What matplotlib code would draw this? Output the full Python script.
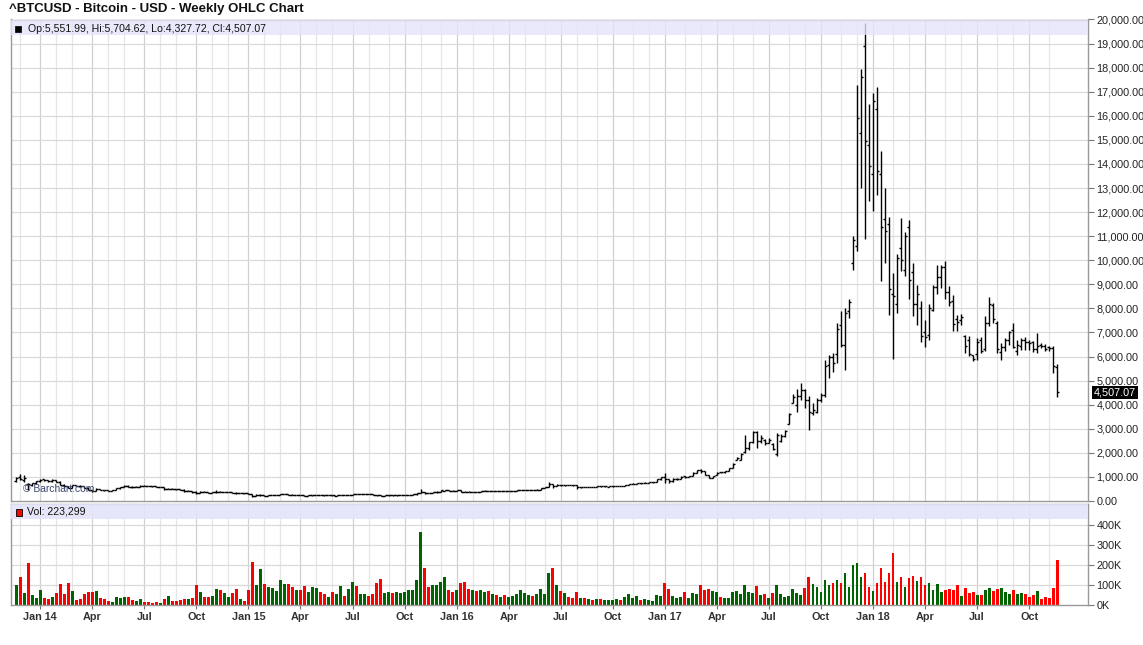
import numpy as np
import pandas as pd
import matplotlib
matplotlib.use("Agg")
import matplotlib.pyplot as plt
import matplotlib.transforms as mtrans
from matplotlib.patches import Rectangle

plt.rcParams['font.family'] = ['Liberation Sans', 'DejaVu Sans']

# weekly bars, week starts on Monday
first_week = "2013-11-25"

opens = [
    810, 1000, 860, 720, 660, 730, 820, 900, 860, 820,
    880, 800, 680, 620, 560, 660, 630, 610, 560, 450,
    420, 500, 450, 440, 430, 445, 520, 580, 640, 600,
    580, 600, 640, 620, 615, 605, 590, 590, 500, 510,
    490, 480, 470, 400, 410, 360, 340, 390, 380, 340,
    360, 390, 370, 370, 380, 350, 320, 330, 315, 275,
    210, 230, 260, 225, 235, 245, 255, 275, 290, 265,
    250, 260, 240, 225, 235, 232, 240, 235, 232, 238,
    225, 232, 245, 242, 258, 290, 275, 285, 292, 278,
    262, 232, 228, 230, 238, 232, 236, 234, 240, 252,
    270, 325, 385, 330, 322, 360, 390, 430, 455, 430,
    428, 452, 385, 385, 370, 380, 372, 410, 425, 412,
    416, 410, 416, 412, 418, 426, 450, 446, 450, 456,
    444, 470, 530, 590, 690, 640, 670, 645, 665, 655,
    645, 570, 590, 575, 580, 572, 610, 603, 600, 606,
    610, 620, 615, 650, 695, 705, 745, 735, 765, 770,
    785, 920, 1000, 900, 820, 900, 920, 1020, 1000, 1040,
    1180, 1270, 1230, 1070, 965, 1090, 1200, 1190, 1240, 1360,
    1700, 1720, 2040, 2200, 2450, 2850, 2500, 2550, 2400, 2380,
    1950, 2500, 2700, 3200, 4080, 4000, 4350, 4600, 4200, 3650,
    3700, 4200, 4400, 5650, 6000, 6100, 7300, 6500, 7900, 9900,
    10600, 15300, 18900, 14800, 13600, 16300, 13600, 11700, 11500, 8600,
    8200, 10500, 9600, 11400, 9500, 8200, 8000, 7000, 6900, 7950,
    8900, 9300, 9700, 8700, 8300, 7550, 7500, 6850, 6700, 6050,
    6100, 6700, 6300, 7400, 8150, 7400, 6200, 6400, 6700, 7100,
    6250, 6450, 6700, 6600, 6600, 6300, 6480, 6450, 6400, 6350, 5551.99,
]
highs = [
    990, 1110, 1070, 740, 760, 830, 920, 920, 880, 900,
    890, 810, 700, 640, 680, 680, 650, 615, 570, 460,
    540, 510, 460, 450, 450, 530, 600, 670, 660, 610,
    610, 650, 645, 630, 625, 610, 600, 600, 520, 520,
    500, 485, 480, 440, 420, 400, 400, 400, 390, 380,
    460, 400, 390, 385, 380, 360, 335, 335, 320, 280,
    290, 310, 265, 240, 260, 262, 300, 300, 295, 270,
    265, 262, 242, 240, 245, 245, 245, 240, 245, 240,
    236, 250, 248, 265, 295, 300, 295, 298, 296, 280,
    265, 235, 235, 240, 240, 242, 245, 242, 255, 275,
    330, 500, 390, 340, 365, 395, 470, 465, 460, 438,
    460, 455, 395, 400, 385, 385, 420, 440, 430, 420,
    418, 420, 420, 422, 428, 455, 468, 465, 460, 458,
    480, 540, 600, 770, 700, 700, 680, 680, 680, 660,
    650, 600, 595, 590, 585, 610, 612, 612, 610, 612,
    620, 640, 660, 700, 745, 750, 760, 770, 775, 790,
    930, 1000, 1150, 910, 940, 940, 1020, 1050, 1050, 1200,
    1290, 1330, 1260, 1080, 1045, 1200, 1220, 1240, 1360, 1560,
    1840, 1980, 2740, 2470, 2900, 2920, 2740, 2560, 2600, 2400,
    2810, 2770, 2950, 3640, 4430, 4640, 4890, 4670, 4360, 4060,
    4270, 4470, 5860, 6070, 6140, 7400, 7880, 8010, 8370, 11000,
    17300, 17960, 19860, 16500, 16950, 17200, 14530, 13000, 11790, 9470,
    10260, 11760, 11180, 11690, 9890, 8990, 8300, 7530, 8200, 8990,
    9790, 9800, 9960, 8920, 8570, 7740, 7770, 6910, 6840, 6080,
    6770, 6800, 7670, 8460, 8230, 7470, 6570, 6770, 7050, 7400,
    6700, 6770, 6800, 6700, 6660, 6980, 6570, 6520, 6430, 6430, 5704.62,
]
lows = [
    790, 870, 800, 470, 620, 690, 800, 820, 800, 800,
    780, 650, 580, 530, 550, 620, 600, 540, 440, 360,
    410, 440, 420, 420, 425, 440, 510, 570, 590, 560,
    575, 595, 610, 610, 600, 580, 585, 470, 480, 480,
    470, 460, 390, 395, 330, 280, 335, 370, 330, 320,
    350, 360, 365, 365, 340, 310, 315, 310, 270, 170,
    200, 220, 210, 215, 230, 238, 250, 270, 260, 240,
    240, 235, 215, 220, 225, 230, 230, 228, 230, 225,
    222, 230, 238, 240, 255, 270, 272, 280, 270, 255,
    200, 198, 222, 225, 228, 228, 232, 230, 238, 250,
    265, 320, 305, 315, 318, 350, 385, 420, 420, 415,
    425, 370, 365, 360, 365, 370, 370, 400, 405, 408,
    405, 408, 410, 410, 415, 424, 445, 440, 448, 440,
    440, 465, 520, 580, 530, 620, 630, 640, 650, 640,
    480, 560, 565, 570, 565, 570, 600, 598, 595, 600,
    605, 610, 612, 645, 690, 695, 700, 730, 750, 765,
    785, 880, 740, 760, 800, 880, 910, 940, 990, 1030,
    1170, 1150, 1080, 940, 940, 1080, 1160, 1180, 1230, 1350,
    1690, 1700, 2000, 2100, 2400, 2190, 2400, 2330, 2400, 2120,
    1880, 2440, 2670, 3190, 4060, 3710, 4200, 3860, 2950, 3570,
    3640, 4130, 4340, 5100, 5350, 5720, 6380, 5460, 7600, 9600,
    10370, 13000, 10900, 12450, 12040, 12730, 9150, 9890, 7740, 5910,
    7810, 9540, 9340, 8370, 7670, 7300, 6600, 6400, 6700, 7880,
    8600, 8850, 8370, 8090, 7050, 7050, 7330, 6150, 6010, 5800,
    5870, 6150, 6220, 7260, 7400, 6150, 5870, 6220, 6500, 6360,
    6080, 6290, 6290, 6290, 6180, 6150, 6360, 6220, 6220, 5320, 4327.72,
]
closes = [
    960, 900, 950, 690, 740, 820, 880, 860, 830, 880,
    800, 680, 620, 560, 660, 630, 610, 560, 450, 420,
    500, 450, 440, 430, 445, 520, 580, 640, 600, 580,
    600, 640, 620, 615, 605, 590, 595, 500, 510, 490,
    480, 470, 400, 410, 360, 340, 390, 380, 340, 360,
    390, 370, 380, 380, 350, 320, 330, 315, 275, 210,
    250, 260, 225, 235, 255, 255, 280, 290, 265, 250,
    260, 240, 225, 235, 240, 240, 235, 232, 238, 230,
    232, 245, 242, 258, 290, 275, 290, 292, 278, 262,
    230, 228, 230, 238, 232, 240, 242, 239, 252, 270,
    325, 385, 330, 322, 360, 390, 440, 455, 430, 428,
    452, 380, 375, 370, 380, 372, 410, 425, 412, 416,
    410, 416, 412, 418, 426, 450, 462, 458, 456, 444,
    470, 530, 590, 690, 640, 660, 645, 665, 655, 645,
    570, 590, 575, 580, 572, 605, 603, 608, 606, 610,
    615, 615, 650, 695, 720, 745, 735, 765, 770, 785,
    920, 990, 900, 820, 920, 925, 1010, 1000, 1040, 1180,
    1270, 1230, 1100, 960, 1040, 1180, 1190, 1230, 1350, 1550,
    1800, 1940, 2200, 2450, 2850, 2500, 2600, 2400, 2550, 2180,
    2750, 2700, 2900, 3600, 4300, 4350, 4600, 4200, 3700, 3780,
    4200, 4400, 5600, 6000, 5750, 7150, 6500, 7800, 8250, 10850,
    15900, 17600, 14950, 13900, 16600, 13700, 11400, 11200, 8800, 8500,
    10100, 10000, 11000, 9200, 8200, 8600, 6850, 6800, 8000, 8900,
    9300, 9700, 8700, 8250, 7350, 7450, 7650, 6450, 6100, 5900,
    6600, 6250, 7400, 8200, 7550, 6300, 6400, 6700, 7000, 6400,
    6500, 6700, 6600, 6550, 6300, 6450, 6420, 6300, 6350, 5600, 4507.07,
]
# volume in thousands
volume_k = [
    100, 140, 60, 210, 50, 35, 75, 35, 30, 40,
    60, 105, 55, 110, 70, 25, 30, 55, 65, 65,
    70, 35, 30, 20, 15, 40, 35, 40, 40, 25,
    20, 30, 15, 15, 12, 15, 12, 30, 45, 20,
    20, 25, 30, 30, 35, 100, 65, 40, 40, 45,
    80, 75, 60, 40, 60, 80, 30, 20, 75, 215,
    100, 180, 105, 90, 85, 70, 125, 105, 105, 90,
    75, 75, 95, 65, 90, 85, 65, 55, 40, 65,
    55, 95, 45, 80, 115, 95, 55, 55, 45, 55,
    110, 130, 60, 65, 60, 65, 60, 65, 75, 75,
    125, 365, 185, 90, 100, 100, 115, 140, 75, 65,
    75, 110, 115, 80, 75, 70, 75, 65, 70, 55,
    50, 40, 50, 40, 45, 55, 75, 60, 50, 45,
    55, 80, 55, 160, 185, 100, 70, 60, 40, 35,
    65, 35, 35, 30, 25, 30, 30, 25, 25, 25,
    30, 25, 40, 55, 35, 45, 25, 30, 25, 20,
    50, 45, 110, 80, 45, 35, 40, 65, 35, 60,
    55, 100, 75, 80, 70, 65, 40, 35, 35, 65,
    70, 55, 100, 65, 60, 95, 50, 55, 35, 60,
    100, 55, 40, 45, 80, 60, 50, 85, 140, 105,
    90, 65, 125, 100, 110, 125, 110, 160, 90, 200,
    210, 140, 160, 90, 70, 110, 185, 115, 160, 260,
    115, 140, 90, 135, 145, 120, 140, 100, 110, 75,
    105, 65, 75, 80, 75, 100, 45, 85, 60, 65,
    50, 50, 75, 85, 70, 80, 85, 65, 55, 75,
    55, 60, 55, 40, 50, 70, 30, 40, 35, 85, 223.299,
]
# G = up week, R = down week (colour of volume bar)
vol_dir = (
    "GRGRGGGRRG" "RRRRGRRRRR" "GRRRGGGGRR" "GGRRRRGRGR"
    "RRRGRRGRRG" "GRGGRRGRRR" "GGRGGGGGRR" "GRRGGGRRGR"
    "GGRGGRGGRR" "RRGGRGGGGG" "GGRRGGGGRR" "GRRRGRGGRG"
    "RGRGGGGGGR" "GGGGRGRGRR" "RGRGRGRGGG" "GRGGGGRGGG"
    "GGRRGGGRGG" "GRRRGGRGGG" "GGGGGRGRGR" "GGGGGGGRRG"
    "GGGGRGRGGG" "GGRRGRRRRR" "GRGRRGRRGG" "GGRRRRGRRR"
    "GRGGRRGGGR" "GGRRRGRRRRR"
)

title = "^BTCUSD - Bitcoin - USD - Weekly OHLC Chart"
price_legend = "Op:5,551.99, Hi:5,704.62, Lo:4,327.72, Cl:4,507.07"
vol_legend = "Vol: 223,299"
last_label = "4,507.07"
watermark = "\u00a9 Barchart.com"

n = len(closes)
assert len(opens) == n and len(highs) == n and len(lows) == n
assert len(volume_k) == n and len(vol_dir) == n

weeks = pd.date_range(first_week, periods=n, freq="W-MON")
x = np.arange(n)

W, H = 1143, 645
fig = plt.figure(figsize=(W / 100, H / 100), dpi=100)


def box(l, t, r, b):
    return [l / W, 1 - b / H, (r - l) / W, (b - t) / H]


ax = fig.add_axes(box(11, 19.5, 1088, 501))
axv = fig.add_axes(box(11, 504, 1088, 605), sharex=ax)

# month starts -> grid lines, quarters -> labels
month_idx = [i for i in range(1, n) if weeks[i].month != weeks[i - 1].month]
quarter_idx = [i for i in month_idx if weeks[i].month in (1, 4, 7, 10)]
quarter_lbl = [weeks[i].strftime("Jan %y") if weeks[i].month == 1 else weeks[i].strftime("%b")
               for i in quarter_idx]

for a in (ax, axv):
    for i in month_idx:
        c = '#d0d0d0' if i in quarter_idx else '#e6e6e6'
        a.axvline(i, color=c, lw=0.9, zorder=0)
    for s in a.spines.values():
        s.set_color('#9a9a9a')
        s.set_linewidth(1.0)

for yv in range(1000, 20000, 1000):
    ax.axhline(yv, color='#dadada', lw=0.9, zorder=0)
for yv in range(100, 500, 100):
    axv.axhline(yv, color='#dadada', lw=0.9, zorder=0)

# OHLC bars
ax.vlines(x, lows, highs, color='black', lw=1.0, zorder=3)
ax.hlines(opens, x - 0.55, x, color='black', lw=1.0, zorder=3)
ax.hlines(closes, x, x + 0.55, color='black', lw=1.0, zorder=3)

ax.set_xlim(-1.3, 267.7)
ax.set_ylim(0, 20000)

# legend band (price)
ax.add_patch(Rectangle((0, 1 - 15.5 / 481.5), 1, 15.5 / 481.5, transform=ax.transAxes,
                       facecolor='#e4e4fa', edgecolor='none', alpha=0.8, zorder=4))
fig.add_artist(Rectangle((15 / W, 1 - 32 / H), 6 / W, 6 / H, transform=fig.transFigure,
                         facecolor='black', edgecolor='black', lw=0.5, zorder=6))
fig.text(28 / W, 1 - 29 / H, price_legend, fontsize=7.6, va='center', ha='left', color='#111111', zorder=6)

ax.text(23, 488.5, watermark, transform=mtrans.IdentityTransform() + mtrans.Affine2D().scale(1, -1).translate(0, H),
        fontsize=7.4, color='#3a4870', va='center', ha='left', zorder=5)

ax.yaxis.tick_right()
ax.set_yticks(range(0, 20001, 1000))
ax.set_yticklabels([f"{v:,.2f}" for v in range(0, 20001, 1000)])
ax.tick_params(axis='y', length=4, width=0.8, color='#777777', labelsize=7.8, labelcolor='#222222', pad=2)
ax.tick_params(axis='x', length=0, labelbottom=False)

# last price tag
tr = mtrans.blended_transform_factory(ax.transAxes, ax.transData)
ax.text(1.0055, closes[-1], last_label, transform=tr, fontsize=7.8, color='white', va='center', ha='left',
        bbox=dict(facecolor='black', edgecolor='none', pad=1.2), zorder=6, clip_on=False)

# volume
vol_colors = ['#006400' if d == 'G' else '#ff0000' for d in vol_dir]
axv.bar(x, volume_k, width=0.72, color=vol_colors, linewidth=0, zorder=2)
axv.set_ylim(0, 503.5)
axv.add_patch(Rectangle((0, 1 - 14.5 / 101), 1, 14.5 / 101, transform=axv.transAxes,
                        facecolor='#e4e4fa', edgecolor='none', alpha=0.9, zorder=4))
fig.add_artist(Rectangle((15.5 / W, 1 - 515.5 / H), 6.5 / W, 6.5 / H, transform=fig.transFigure,
                         facecolor='#ff0000', edgecolor='black', lw=0.6, zorder=6))
fig.text(27 / W, 1 - 512 / H, vol_legend, fontsize=7.6, va='center', ha='left', color='#111111', zorder=6)

axv.yaxis.tick_right()
axv.set_yticks(range(0, 401, 100))
axv.set_yticklabels([f"{v}K" for v in range(0, 401, 100)])
axv.tick_params(axis='y', length=4, width=0.8, color='#777777', labelsize=7.8, labelcolor='#222222', pad=2)
axv.set_xticks(quarter_idx)
axv.set_xticklabels(quarter_lbl, fontweight='bold')
axv.tick_params(axis='x', length=3, width=0.8, color='#777777', labelsize=7.8, labelcolor='#333333', pad=2)

fig.text(9 / W, 1 - 9 / H, title, fontsize=9.5, fontweight='bold', va='center', ha='left', color='#111111')

fig.savefig("out.png", dpi=100)
